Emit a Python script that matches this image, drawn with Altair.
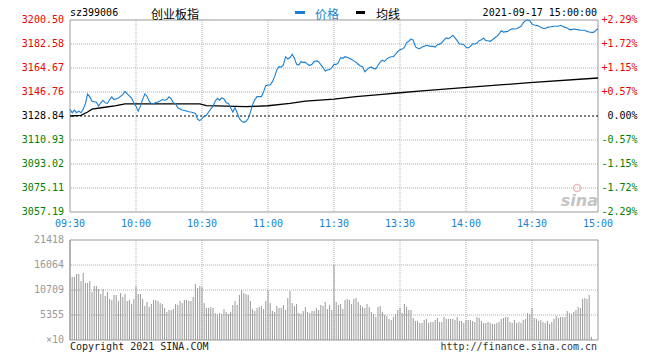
import altair as alt
import pandas as pd

prev_close = 3128.84

price_minutes = [0,1,2,3,4,5,6,7,8,9,10,12,13,14,15,16,17,18,19,20,21,22,24,25,26,28,29,30,31,32,33,34,35,36,37,38,39,40,42,43,44,45,46,47,48,49,51,52,54,55,57,58,59,60,61,62,63,65,66,67,68,69,70,71,72,73,74,75,76,77,78,79,80,81,82,83,84,85,87,88,89,90,91,92,93,94,95,96,97,98,99,100,101,102,103,104,105,106,107,108,109,110,111,112,113,115,116,117,118,119,120,121,122,123,124,125,127,128,129,130,131,132,133,134,135,136,137,138,139,140,141,142,143,144,145,146,147,148,149,150,151,152,153,154,155,156,157,158,159,160,161,162,164,165,166,167,168,169,170,171,172,173,174,175,176,177,178,179,180,181,182,183,184,185,186,187,188,189,190,191,192,193,194,195,196,197,199,200,201,202,203,205,206,207,208,209,210,211,212,213,214,215,216,217,218,220,222,223,224,225,226,227,228,229,230,231,232,234,235,236,237,238,239,240]
price_values = [3133.8,3131.3,3133.3,3131.3,3132.5,3131.3,3133.8,3138.0,3145.3,3143.1,3139.9,3139.1,3136.2,3138.7,3140.6,3138.7,3138.2,3141.1,3143.1,3141.1,3141.8,3142.3,3144.8,3147.2,3145.3,3142.3,3138.7,3136.2,3132.5,3136.2,3141.1,3145.3,3143.6,3139.9,3137.9,3137.9,3139.1,3139.1,3141.1,3140.6,3141.1,3143.1,3141.6,3138.7,3137.9,3135.0,3133.3,3133.0,3132.0,3131.8,3130.8,3126.4,3125.4,3126.9,3128.8,3129.3,3131.8,3136.2,3139.9,3142.1,3140.6,3142.3,3141.6,3138.7,3138.2,3135.0,3131.8,3135.0,3131.3,3126.9,3125.0,3124.1,3124.9,3127.0,3131.5,3137.5,3141.0,3143.3,3143.3,3147.0,3151.5,3152.0,3152.0,3154.5,3158.2,3163.2,3165.7,3165.3,3167.0,3173.1,3171.4,3172.5,3174.9,3171.9,3167.4,3166.9,3169.4,3168.9,3168.9,3167.4,3166.5,3167.5,3169.5,3170.0,3169.4,3165.0,3162.4,3163.2,3163.5,3164.9,3167.4,3167.4,3168.6,3172.4,3171.9,3173.1,3171.9,3171.0,3170.0,3169.0,3167.5,3166.2,3165.7,3161.9,3163.5,3164.9,3165.5,3164.2,3164.0,3166.5,3169.0,3170.5,3169.6,3171.5,3172.5,3173.1,3173.1,3175.0,3177.0,3178.3,3178.8,3180.0,3183.6,3184.6,3186.3,3185.5,3180.6,3179.4,3179.1,3180.3,3180.8,3181.6,3180.8,3180.8,3180.3,3182.1,3182.5,3183.5,3185.5,3187.1,3186.6,3187.6,3189.1,3187.1,3185.1,3182.6,3182.6,3182.1,3180.1,3179.6,3180.8,3182.7,3182.6,3183.3,3185.1,3185.8,3187.1,3185.1,3185.0,3184.6,3185.8,3187.1,3188.3,3190.0,3192.5,3191.5,3192.0,3193.3,3194.0,3193.8,3194.0,3195.8,3198.3,3200.0,3200.5,3200.0,3197.5,3196.8,3196.5,3196.0,3195.0,3194.3,3194.0,3195.0,3195.3,3195.8,3195.8,3196.5,3195.8,3195.0,3194.5,3193.3,3193.3,3193.8,3193.5,3193.3,3192.8,3192.8,3192.0,3191.5,3191.3,3191.3,3192.8,3194.0]

avg_minutes = [0,5,8,10,15,21,25,59,62,80,90,100,107,120,130,142,150,160,179,209,240]
avg_values = [3128.84,3129.3,3131.8,3134.0,3135.2,3136.6,3137.9,3137.9,3136.6,3135.8,3136.5,3138.3,3140.0,3141.5,3143.3,3145.0,3146.2,3147.6,3150.0,3153.7,3157.2]

volume_values = [21418,
    13495,13495,14137,14137,12638,14351,12209,12209,12638,10282,
    11567,11567,10924,9853,10924,9425,10282,8782,8568,9639,
    9639,8354,10067,9211,9853,8354,8568,7711,8782,11567,
    9853,9853,8782,7283,8140,7069,7711,8568,8568,8354,
    7925,7711,6854,5998,6426,6426,6640,7711,7497,8354,
    7925,8568,8568,8354,8354,9211,11995,11138,11567,11353,
    7925,6854,6854,7069,6854,5783,5569,5783,5569,6640,
    5998,5569,5998,7497,8354,7497,9639,10710,10067,9853,
    9639,8354,6640,6212,6854,7069,7283,6640,8354,10710,
    7925,6212,5998,7283,6854,6854,7497,6426,8996,10496,
    7925,7283,7711,5783,5569,6212,7069,5998,5783,6212,
    6212,6854,6426,7497,7283,8140,6640,7497,6426,16065,
    8140,7497,7711,6640,8568,8782,8568,7711,8782,8996,
    8140,7497,7069,6854,7711,7069,5998,5569,4927,7069,
    7283,5998,5355,5141,4498,4284,4927,5569,6426,6854,
    5783,7711,7069,6426,6426,4712,4070,4070,3641,3641,
    4284,4498,3641,3856,3856,4284,4712,3856,3856,4927,
    4498,4498,4498,4498,4284,4927,4070,4070,3641,4284,
    4284,4284,4070,3856,4927,4712,4070,3641,3641,3856,
    3641,3427,3427,3641,3856,4498,4712,4927,4927,3856,
    3641,4284,3641,3856,3641,4284,4498,5783,5569,6854,
    4712,4498,4070,4284,3856,3641,4070,3427,3856,4498,
    5141,4712,4927,4927,4927,6212,5783,5569,5998,6426,
    7069,6854,8782,8996,8782,9639,643,0,0,0]

price_ticks = [3200.50, 3182.58, 3164.67, 3146.76, 3128.84, 3110.93, 3093.02, 3075.11, 3057.19]
price_tick_labels = ["3200.50", "3182.58", "3164.67", "3146.76", "3128.84", "3110.93", "3093.02", "3075.11", "3057.19"]
pct_tick_labels = ["+2.29%", "+1.72%", "+1.15%", "+0.57%", "0.00%", "-0.57%", "-1.15%", "-1.72%", "-2.29%"]
time_ticks = [0, 30, 60, 90, 120, 150, 180, 210, 240]
time_labels = ["09:30", "10:00", "10:30", "11:00", "11:30", "13:30", "14:00", "14:30", "15:00"]
vol_ticks = [21418, 16064, 10709, 5355, 0]
vol_tick_labels = ["21418", "16064", "10709", "5355", "\u00d710"]

MONO = "DejaVu Sans Mono"
CJK = "Noto Sans CJK SC"
BLUE = "#1a7fd0"
RED = "#ee0000"
GREEN = "#008000"
GRID = "#b0b0b0"
FRAME = "#999999"

XS = alt.Scale(domain=[0, 240], nice=False, zero=False)
PS = alt.Scale(domain=[3057.19, 3200.50], range=[192, 0], nice=False, zero=False)
VS = alt.Scale(domain=[0, 21418], range=[320, 220], nice=False, zero=True)

def tick_color(t):
    if abs(t - prev_close) < 1e-6:
        return "#000000"
    return RED if t > prev_close else GREEN

df_price = pd.DataFrame({"minute": price_minutes, "price": price_values})
df_avg = pd.DataFrame({"minute": avg_minutes, "price": avg_values})
df_vol = pd.DataFrame({"minute": list(range(len(volume_values))), "vol": volume_values})
df_pt = pd.DataFrame({"price": price_ticks, "label": price_tick_labels, "pct": pct_tick_labels,
                      "color": [tick_color(t) for t in price_ticks]})
df_pt_inner = df_pt[(df_pt.price < 3200) & (df_pt.price > 3058) & ((df_pt.price - prev_close).abs() > 1e-6)]
df_time = pd.DataFrame({"minute": time_ticks, "label": time_labels})
df_time_inner = df_time[(df_time.minute > 0) & (df_time.minute < 240)]
df_vt = pd.DataFrame({"vol": vol_ticks, "label": vol_tick_labels})
df_vt_inner = df_vt[(df_vt.vol > 0) & (df_vt.vol < 21418)]
one = pd.DataFrame({"k": [0]})

x = alt.X("minute:Q", scale=XS, axis=None)
yp = alt.Y("price:Q", scale=PS, axis=None)
yv = alt.Y("vol:Q", scale=VS, axis=None)

layers = []
# price panel grid
layers.append(alt.Chart(df_pt_inner).mark_rule(color=GRID, strokeDash=[1, 1], strokeWidth=1).encode(y=yp))
layers.append(alt.Chart(df_time_inner).mark_rule(color=GRID, strokeDash=[1, 1], strokeWidth=1).encode(
    x=x, y=alt.YDatum(3200.50, scale=PS, axis=None), y2=alt.Y2Datum(3057.19)))
# volume panel grid
layers.append(alt.Chart(df_vt_inner).mark_rule(color=GRID, strokeDash=[1, 1], strokeWidth=1).encode(y=yv))
layers.append(alt.Chart(df_time_inner).mark_rule(color=GRID, strokeDash=[1, 1], strokeWidth=1).encode(
    x=x, y=alt.YDatum(21418, scale=VS, axis=None), y2=alt.Y2Datum(0)))
# volume bars
layers.append(alt.Chart(df_vol).mark_rule(color="#999999", strokeWidth=1).encode(
    x=x, y=yv, y2=alt.Y2Datum(0)))
# frames
layers.append(alt.Chart(one).mark_rect(fill="transparent", stroke=FRAME, strokeWidth=1).encode(
    x=alt.XDatum(0, scale=XS, axis=None), x2=alt.X2Datum(240),
    y=alt.YDatum(3200.50, scale=PS, axis=None), y2=alt.Y2Datum(3057.19)))
layers.append(alt.Chart(one).mark_rect(fill="transparent", stroke=FRAME, strokeWidth=1).encode(
    x=alt.XDatum(0, scale=XS, axis=None), x2=alt.X2Datum(240),
    y=alt.YDatum(21418, scale=VS, axis=None), y2=alt.Y2Datum(0)))
# previous close
layers.append(alt.Chart(pd.DataFrame({"price": [prev_close]})).mark_rule(
    color="black", strokeDash=[2, 2], strokeWidth=1).encode(y=yp))
# lines
layers.append(alt.Chart(df_avg).mark_line(color="black", strokeWidth=1.3).encode(x=x, y=yp))
layers.append(alt.Chart(df_price).mark_line(color=BLUE, strokeWidth=1.1).encode(x=x, y=yp))
# price labels
layers.append(alt.Chart(df_pt).mark_text(align="right", baseline="middle", font=MONO, fontSize=10).encode(
    x=alt.value(-6), y=yp, text="label:N", color=alt.Color("color:N", scale=None)))
layers.append(alt.Chart(df_pt).mark_text(align="right", baseline="middle", font=MONO, fontSize=10).encode(
    x=alt.value(567.5), y=yp, text="pct:N", color=alt.Color("color:N", scale=None)))
layers.append(alt.Chart(df_time).mark_text(align="center", baseline="middle", font=MONO, fontSize=10,
                                           color=BLUE).encode(x=x, y=alt.value(204), text="label:N"))
layers.append(alt.Chart(df_vt).mark_text(align="right", baseline="middle", font=MONO, fontSize=10,
                                         color="#999999").encode(x=alt.value(-6), y=yv, text="label:N"))
# header
layers.append(alt.Chart(one).mark_text(text="sz399006", align="left", baseline="middle", font=MONO,
                                       fontSize=10, color="black").encode(x=alt.value(0), y=alt.value(-7)))
layers.append(alt.Chart(one).mark_text(text="创业板指", align="left", baseline="middle", font=CJK,
                                       fontSize=12, color="black").encode(x=alt.value(81), y=alt.value(-5.5)))
layers.append(alt.Chart(one).mark_rule(color=BLUE, strokeWidth=3).encode(
    x=alt.value(225), x2=alt.value(235), y=alt.value(-7.5)))
layers.append(alt.Chart(one).mark_text(text="价格", align="left", baseline="middle", font=CJK,
                                       fontSize=12, color=BLUE).encode(x=alt.value(245), y=alt.value(-5.5)))
layers.append(alt.Chart(one).mark_rule(color="black", strokeWidth=3).encode(
    x=alt.value(286), x2=alt.value(295), y=alt.value(-7.5)))
layers.append(alt.Chart(one).mark_text(text="均线", align="left", baseline="middle", font=CJK,
                                       fontSize=12, color="black").encode(x=alt.value(306), y=alt.value(-5.5)))
layers.append(alt.Chart(one).mark_text(text="2021-09-17 15:00:00", align="right", baseline="middle",
                                       font=MONO, fontSize=10, color="black").encode(x=alt.value(527), y=alt.value(-7)))
# watermark
layers.append(alt.Chart(one).mark_point(shape="circle", size=50, filled=False, color="#e4a0a0",
                                        strokeWidth=1.5).encode(x=alt.value(507), y=alt.value(168)))
layers.append(alt.Chart(one).mark_text(text="sina", align="right", baseline="alphabetic", font="DejaVu Sans",
                                       fontSize=16, fontWeight="bold", fontStyle="italic",
                                       color="#c4c4c4").encode(x=alt.value(528), y=alt.value(186)))
# footer
layers.append(alt.Chart(one).mark_text(text="Copyright 2021 SINA.COM", align="left", baseline="middle",
                                       font=MONO, fontSize=10, color="#222222").encode(x=alt.value(0), y=alt.value(326.5)))
layers.append(alt.Chart(one).mark_text(text="http://finance.sina.com.cn", align="right", baseline="middle",
                                       font=MONO, fontSize=10, color="#333333").encode(x=alt.value(527), y=alt.value(326.5)))

chart = alt.layer(*layers).resolve_scale(y="independent", color="independent").properties(
    width=528, height=320,
    autosize=alt.AutoSizeParams(type="none"),
    padding={"left": 62, "top": 12, "right": 50, "bottom": 14},
    background="white",
).configure_view(stroke=None)

chart.save("out.html", embed_options={"renderer": "svg", "actions": False})
